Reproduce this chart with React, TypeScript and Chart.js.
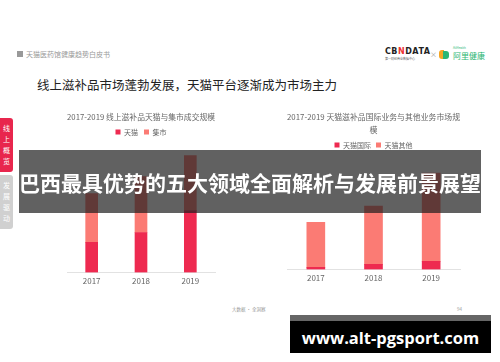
import React, { useEffect, useRef } from "react";
import { Chart, registerables } from "chart.js";

Chart.register(...registerables);

const years = ["2017", "2018", "2019"];
const tmallValues = [30, 40, 62];
const jishiValues = [49, 56, 55];
const intlValues = [2, 5, 8];
const otherValues = [45, 58, 88];

const leftTitle = "2017-2019 线上滋补品天猫与集市成交规模";
const rightTitle = ["2017-2019 天猫滋补品国际业务与其他业务市场规", "模"];

const RED = "#ee2a50";
const SALMON = "#fb7b74";
const CJK = '"Noto Sans CJK SC", "Noto Sans", sans-serif';

function useBarChart(
  ref: React.RefObject<HTMLCanvasElement>,
  title: string | string[],
  labelA: string,
  dataA: number[],
  labelB: string,
  dataB: number[],
  thickness: number,
  yMax: number,
  padL: number,
  padR: number,
  titlePad: { top: number; bottom: number },
  titleLH: number,
  legendPad: number
) {
  useEffect(() => {
    if (!ref.current) return;
    const chart = new Chart(ref.current, {
      type: "bar",
      data: {
        labels: years,
        datasets: [
          { label: labelA, data: dataA, backgroundColor: RED, barThickness: thickness },
          { label: labelB, data: dataB, backgroundColor: SALMON, barThickness: thickness },
        ],
      },
      options: {
        animation: false,
        responsive: false,
        maintainAspectRatio: false,
        layout: { padding: { left: padL, right: padR, top: 0, bottom: 0 } },
        plugins: {
          title: {
            display: true,
            text: title,
            color: "#666",
            font: { size: 8, family: CJK, weight: "normal", lineHeight: titleLH },
            padding: titlePad,
          },
          legend: {
            display: true,
            labels: {
              boxWidth: 5,
              boxHeight: 5,
              color: "#666",
              font: { size: 7, family: CJK },
              padding: legendPad,
            },
          },
          tooltip: { enabled: false },
        },
        scales: {
          x: {
            stacked: true,
            grid: { display: false, drawTicks: false },
            border: { color: "#e2e2e2" },
            ticks: { color: "#666", font: { size: 8, family: CJK }, padding: 4 },
          },
          y: { stacked: true, display: false, min: 0, max: yMax },
        },
      },
    });
    return () => chart.destroy();
  }, []);
}

export default function App() {
  const leftRef = useRef<HTMLCanvasElement>(null);
  const rightRef = useRef<HTMLCanvasElement>(null);
  useBarChart(leftRef, leftTitle, "天猫", tmallValues, "集市", jishiValues, 12, 127, 27, 25, { top: 8, bottom: 1 }, 1.2, 6);
  useBarChart(rightRef, rightTitle, "天猫国际", intlValues, "天猫其他", otherValues, 18, 110.5, 17, 20, { top: 6.6, bottom: 0.3 }, 1.6, 5);

  const abs = (l: number, t: number, extra: React.CSSProperties = {}): React.CSSProperties => ({
    position: "absolute",
    left: l,
    top: t,
    ...extra,
  });

  return (
    <div style={{ position: "absolute", left: 0, top: 0, width: 500, height: 362, background: "#fff", overflow: "hidden", fontFamily: CJK }}>
      {/* header */}
      <div style={abs(17, 51, { width: 6, height: 6, background: "#999" })} />
      <div style={abs(26, 49, { fontSize: 7, color: "#999", lineHeight: "10px", whiteSpace: "nowrap" })}>天猫医药馆健康趋势白皮书</div>
      <div style={abs(385, 47, { fontSize: 8, fontWeight: 700, color: "#222", letterSpacing: 0.5, lineHeight: "10px", fontFamily: '"DejaVu Sans", sans-serif' })}>CB<span style={{ color: "#e33" }}>N</span>DATA</div>
      <div style={abs(385, 57, { fontSize: 3, color: "#666", lineHeight: "4px", whiteSpace: "nowrap" })}>第一财经商业数据中心</div>
      <div style={abs(430, 49, { fontSize: 7, color: "#999", lineHeight: "10px" })}>×</div>
      <div style={abs(439, 50, { width: 5, height: 9, background: "#f5a623", borderRadius: "3px 0 0 3px" })} />
      <div style={abs(443, 51, { width: 6, height: 8, background: "#2bb673", borderRadius: "0 3px 3px 0" })} />
      <div style={abs(453, 46, { fontSize: 3, color: "#2bb673", lineHeight: "4px" })}>AliHealth</div>
      <div style={abs(453, 51, { fontSize: 8, color: "#2bb673", lineHeight: "10px", whiteSpace: "nowrap" })}>阿里健康</div>

      <div style={abs(37, 77, { fontSize: 12.5, color: "#222", lineHeight: "16px", whiteSpace: "nowrap" })}>
        线上滋补品市场蓬勃发展，天猫平台逐渐成为市场主力
      </div>

      {/* side tabs */}
      <div style={abs(0, 118, { width: 13, height: 54, background: "#e8264d", borderRadius: "0 3px 3px 0" })} />
      <div style={abs(2, 123, { width: 9, fontSize: 7, lineHeight: "11px", color: "#fff", textAlign: "center", wordBreak: "break-all" })}>线上概览</div>
      <div style={abs(0, 175, { width: 13, height: 54, background: "#d0d0d0", borderRadius: "0 3px 3px 0" })} />
      <div style={abs(2, 180, { width: 9, fontSize: 7, lineHeight: "11px", color: "#fff", textAlign: "center", wordBreak: "break-all" })}>发展驱动</div>

      {/* charts */}
      <canvas ref={leftRef} width={200} height={186} style={abs(40, 104, { width: 200, height: 186 })} />
      <canvas ref={rightRef} width={210} height={183} style={abs(270, 104, { width: 210, height: 183 })} />

      {/* footer */}
      <div style={abs(232, 305, { fontSize: 4.5, color: "#999", lineHeight: "8px", whiteSpace: "nowrap" })}>大数据 · 全洞察</div>
      <div style={abs(457, 305, { fontSize: 4.5, color: "#999", lineHeight: "8px" })}>94</div>

      {/* overlay banner */}
      <div style={abs(19, 150, { width: 462, height: 63, background: "rgba(30,30,30,0.7)", display: "flex", alignItems: "center", justifyContent: "center" })}>
        <span style={{ color: "#fff", fontSize: 21, fontWeight: 700, whiteSpace: "nowrap", lineHeight: "26px" }}>
          巴西最具优势的五大领域全面解析与发展前景展望
        </span>
      </div>

      {/* watermark */}
      <div style={abs(290, 315, { width: 201, height: 6, background: "#666" })} />
      <div style={abs(290, 321, { width: 201, height: 32, background: "#000", display: "flex", alignItems: "center", justifyContent: "center" })}>
        <span style={{ color: "#fff", fontSize: 16.5, fontWeight: 700, fontFamily: '"Open Sans", sans-serif', whiteSpace: "nowrap" }}>www.alt-pgsport.com</span>
      </div>
    </div>
  );
}
